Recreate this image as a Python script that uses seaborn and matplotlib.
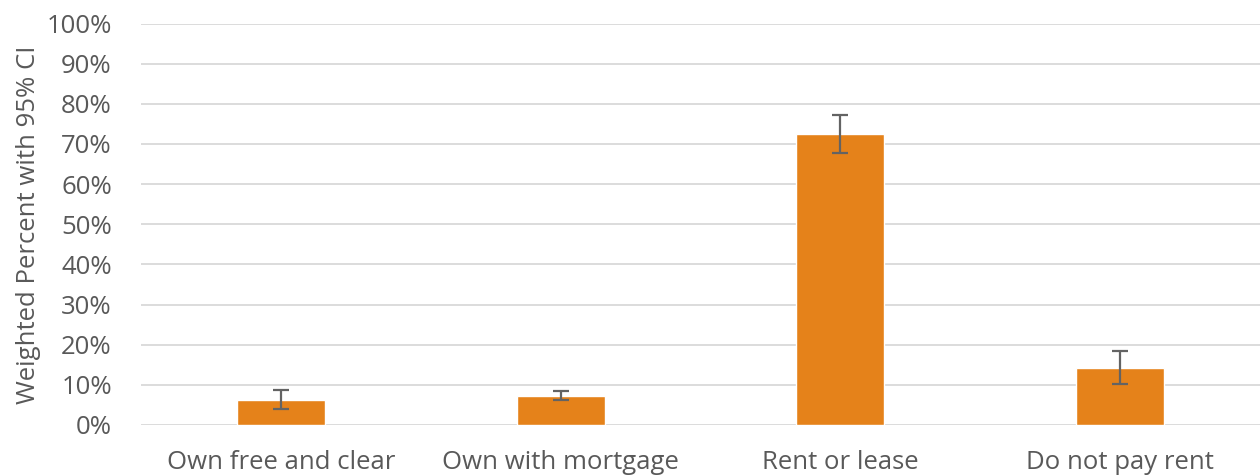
import numpy as np
import pandas as pd
import matplotlib
matplotlib.use('Agg')
import matplotlib.pyplot as plt
import seaborn as sns
from matplotlib.ticker import PercentFormatter

# Data
categories = ['Own free and clear', 'Own with mortgage', 'Rent or lease', 'Do not pay rent']
percent = [6.2, 7.3, 72.4, 14.1]
ci_low = [4.0, 6.3, 67.7, 10.1]
ci_high = [8.6, 8.5, 77.1, 18.4]

df = pd.DataFrame({'category': categories, 'percent': percent})

sns.set_theme(style='white')
plt.rcParams['font.family'] = ['Open Sans', 'DejaVu Sans']

fig, ax = plt.subplots(figsize=(12.6, 4.76), dpi=100)
fig.subplots_adjust(left=141 / 1260, right=1.0, top=1 - 23.5 / 476, bottom=1 - 425 / 476)

sns.barplot(data=df, x='category', y='percent', color='#E5821A', saturation=1,
            width=0.314, errorbar=None, ax=ax, zorder=3)

# 95% CI whiskers
xpos = np.arange(len(categories))
yerr = [np.array(percent) - np.array(ci_low), np.array(ci_high) - np.array(percent)]
ax.errorbar(xpos, percent, yerr=yerr, fmt='none', ecolor='#636363',
            elinewidth=1.6, capsize=6, capthick=1.6, zorder=4)

ax.set_xlim(-0.5, len(categories) - 0.5)
ax.set_ylim(0, 100)
ax.set_yticks(np.arange(0, 101, 10))
ax.yaxis.set_major_formatter(PercentFormatter(decimals=0))
ax.yaxis.grid(True, color='#D9D9D9', linewidth=1.3, zorder=0)
ax.set_axisbelow(True)
for s in ax.spines.values():
    s.set_visible(False)

ax.tick_params(axis='both', length=0, labelsize=18.5, labelcolor='#595959')
ax.tick_params(axis='y', pad=21)
ax.tick_params(axis='x', pad=18)
ax.set_xlabel('')
ax.set_ylabel('Weighted Percent with 95% CI', fontsize=18.5, color='#595959', labelpad=4)

fig.savefig('out.png', dpi=100)
